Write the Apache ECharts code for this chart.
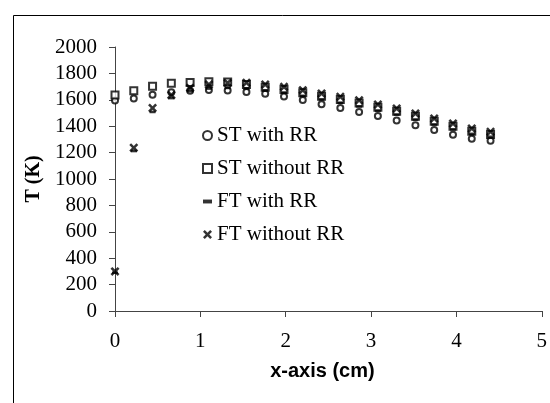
<!DOCTYPE html>
<html>
<head>
<meta charset="utf-8">
<script src="https://cdn.jsdelivr.net/npm/echarts@6/dist/echarts.min.js"></script>
<style>
  html, body { margin: 0; padding: 0; background: #fff; }
  #main { width: 550px; height: 403px; }
</style>
</head>
<body>
<div id="main"></div>
<script>
// distance along the x-axis (cm)
var xPos = [0, 0.22, 0.44, 0.66, 0.88, 1.1, 1.32, 1.54, 1.76, 1.98, 2.2,
            2.42, 2.64, 2.86, 3.08, 3.3, 3.52, 3.74, 3.96, 4.18, 4.4];

// temperatures T (K)
var stWithRR    = [1595, 1610, 1638, 1658, 1668, 1674, 1670, 1660, 1645, 1625, 1598,
                   1566, 1537, 1508, 1477, 1443, 1407, 1371, 1336, 1305, 1290];
var stWithoutRR = [1636, 1668, 1703, 1725, 1731, 1736, 1734, 1715, 1696, 1678, 1653,
                   1627, 1602, 1576, 1543, 1513, 1475, 1437, 1399, 1362, 1338];
var ftWithRR    = [290, 1212, 1508, 1613, 1665, 1685, 1690, 1685, 1672, 1655, 1630,
                   1603, 1578, 1550, 1518, 1488, 1450, 1413, 1376, 1342, 1320];
var ftWithoutRR = [300, 1237, 1538, 1636, 1690, 1715, 1728, 1729, 1716, 1698, 1673,
                   1648, 1623, 1597, 1564, 1534, 1496, 1458, 1420, 1383, 1358];

var names = ['ST with RR', 'ST without RR', 'FT with RR', 'FT without RR'];

// bold cross and short dash markers
var crossPath = 'path://M0,2L2,0L5,3L8,0L10,2L7,5L10,8L8,10L5,7L2,10L0,8L3,5Z';
var dashPath = 'path://M0,0L6,0L6,2.6L0,2.6Z';

function pairs(ys) {
    return xPos.map(function (x, i) { return [x, ys[i]]; });
}

var serif = 'Liberation Serif, Times New Roman, serif';

var myChart = echarts.init(document.getElementById('main'));
myChart.setOption({
    animation: false,
    backgroundColor: '#fff',
    graphic: [{
        type: 'rect',
        left: 11, top: 13,
        shape: { width: 560, height: 420 },
        style: { fill: 'none', stroke: '#000', lineWidth: 1 },
        silent: true
    }],
    grid: { left: 115, right: 7, top: 47, bottom: 92 },
    legend: {
        orient: 'vertical',
        left: 197,
        top: 120,
        itemWidth: 9,
        itemHeight: 9,
        itemGap: 12,
        textStyle: { fontFamily: serif, fontSize: 21, color: '#000', lineHeight: 21 },
        data: [
            { name: names[0], icon: 'emptyCircle', itemStyle: { borderWidth: 2 } },
            { name: names[1], icon: 'emptyRect', itemStyle: { borderWidth: 2 } },
            { name: names[2], icon: dashPath },
            { name: names[3], icon: crossPath }
        ]
    },
    xAxis: {
        type: 'value',
        min: 0, max: 5, interval: 1,
        name: 'x-axis (cm)',
        nameLocation: 'middle',
        nameGap: 50,
        nameTextStyle: {
            fontFamily: 'Liberation Sans, Arial, sans-serif',
            fontWeight: 'bold', fontSize: 20, color: '#000',
            padding: [0, 12, 0, 0]
        },
        axisLine: { lineStyle: { color: '#444', width: 1 } },
        axisTick: { inside: false, length: 6, lineStyle: { color: '#444' } },
        axisLabel: { margin: 20, fontFamily: serif, fontSize: 21, color: '#000' },
        splitLine: { show: false }
    },
    yAxis: {
        type: 'value',
        min: 0, max: 2000, interval: 200,
        name: 'T (K)',
        nameLocation: 'middle',
        nameGap: 68,
        nameTextStyle: { fontFamily: serif, fontWeight: 'bold', fontSize: 20, color: '#000' },
        axisLine: { show: true, lineStyle: { color: '#444', width: 1 } },
        axisTick: { show: true, inside: false, length: 6, lineStyle: { color: '#444' } },
        axisLabel: {
            margin: 18, fontFamily: serif, fontSize: 21, color: '#000',
            formatter: function (v) { return String(v); }
        },
        splitLine: { show: false }
    },
    series: [{
        name: names[0],
        type: 'scatter',
        symbol: 'emptyCircle',
        symbolSize: 6,
        itemStyle: { color: '#000', borderColor: '#000', borderWidth: 2 },
        data: pairs(stWithRR)
    }, {
        name: names[1],
        type: 'scatter',
        symbol: 'emptyRect',
        symbolSize: 7,
        itemStyle: { color: '#000', borderColor: '#000', borderWidth: 2 },
        data: pairs(stWithoutRR)
    }, {
        name: names[2],
        type: 'scatter',
        symbol: dashPath,
        symbolSize: [6, 2.6],
        itemStyle: { color: '#000' },
        data: pairs(ftWithRR)
    }, {
        name: names[3],
        type: 'scatter',
        symbol: crossPath,
        symbolSize: 9,
        itemStyle: { color: '#000' },
        data: pairs(ftWithoutRR)
    }]
});
</script>
</body>
</html>
